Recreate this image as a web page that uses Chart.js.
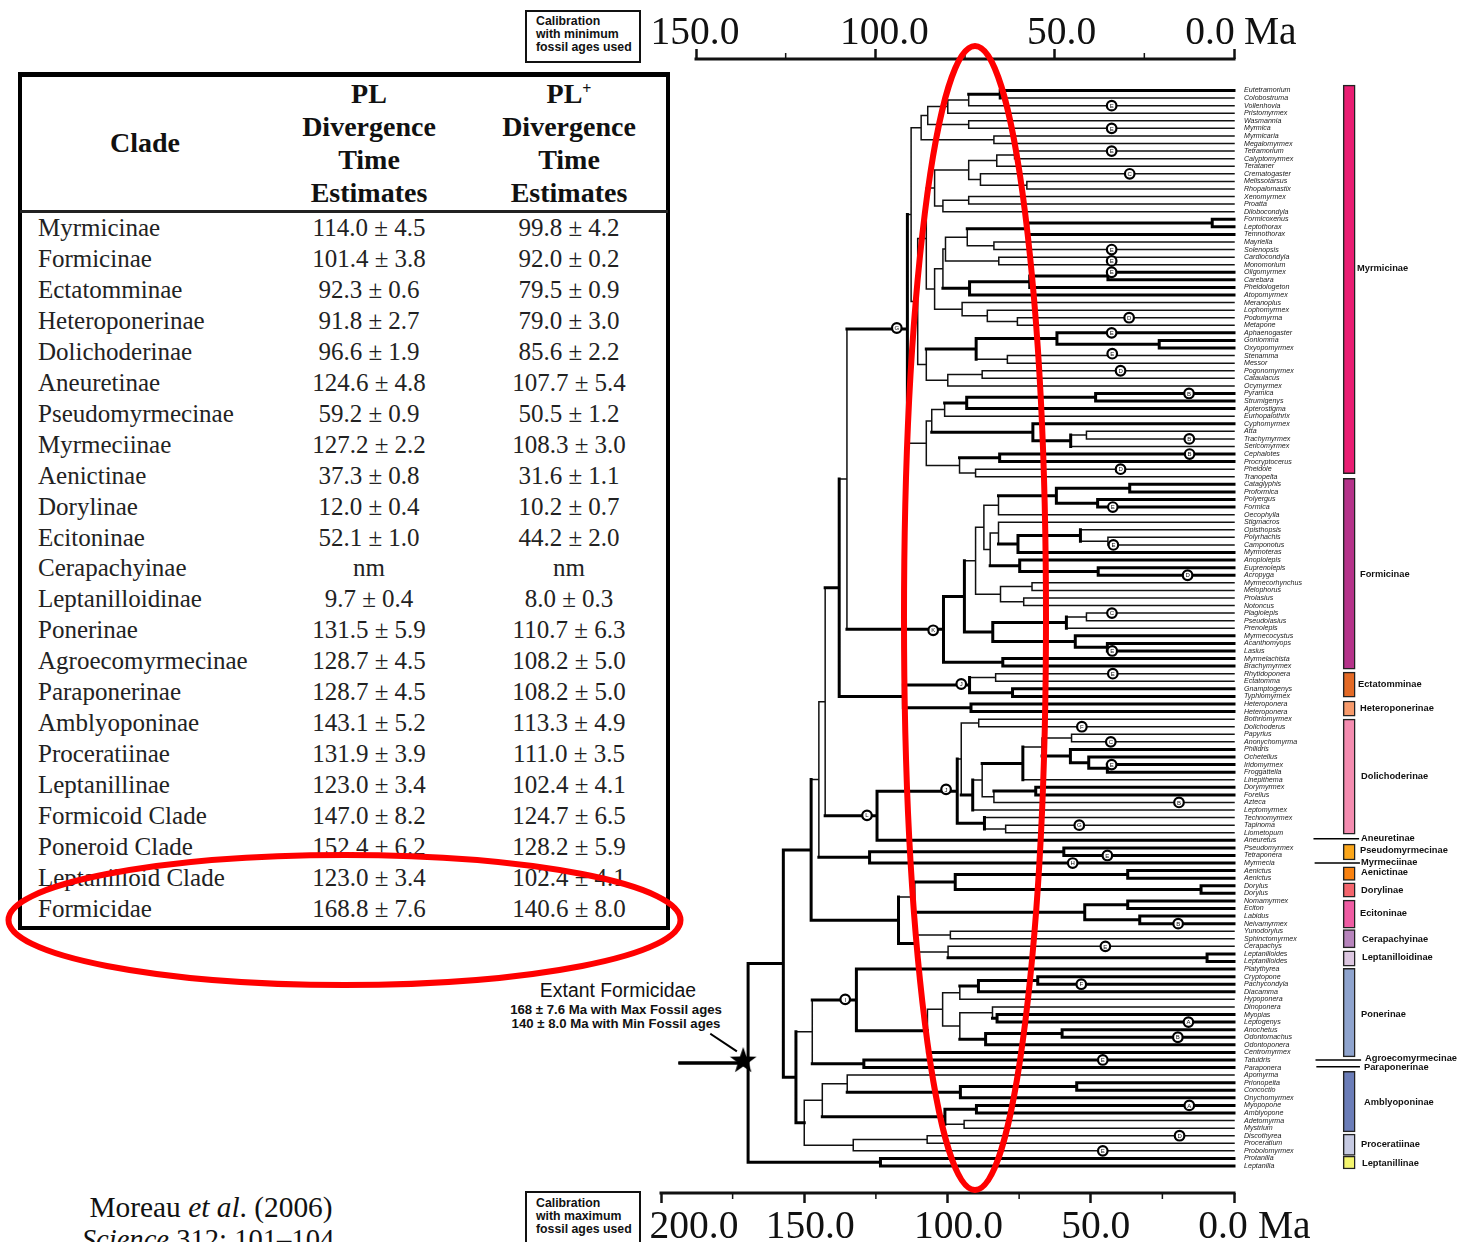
<!DOCTYPE html>
<html><head><meta charset="utf-8">
<style>
html,body{margin:0;padding:0;background:#fff;width:1469px;height:1242px;overflow:hidden}
#stage{position:relative;width:1469px;height:1242px;overflow:hidden}
#c{position:absolute;left:0;top:0;z-index:5}
.t{position:absolute;white-space:nowrap;color:#111}
.serif{font-family:"Liberation Serif",serif}
.sans{font-family:"Liberation Sans",sans-serif}
#frame{position:absolute;left:18px;top:72px;width:644px;height:849px;border:4px solid #000;border-top-width:5px}
#rule{position:absolute;left:20px;top:210px;width:648px;height:3px;background:#222}
.box{position:absolute;left:525px;width:112px;border:2px solid #111}
</style>
<script src="https://cdn.jsdelivr.net/npm/chart.js@4"></script>
</head><body><div id="stage"><canvas id="c" width="1469" height="1242"></canvas></div>
<script>
// ---- table values
const cladeRows=["Myrmicinae","Formicinae","Ectatomminae","Heteroponerinae","Dolichoderinae","Aneuretinae","Pseudomyrmecinae","Myrmeciinae","Aenictinae","Dorylinae","Ecitoninae","Cerapachyinae","Leptanilloidinae","Ponerinae","Agroecomyrmecinae","Paraponerinae","Amblyoponinae","Proceratiinae","Leptanillinae","Formicoid Clade","Poneroid Clade","Leptanilloid Clade","Formicidae"];
const plEstimates=["114.0 ± 4.5","101.4 ± 3.8","92.3 ± 0.6","91.8 ± 2.7","96.6 ± 1.9","124.6 ± 4.8","59.2 ± 0.9","127.2 ± 2.2","37.3 ± 0.8","12.0 ± 0.4","52.1 ± 1.0","nm","9.7 ± 0.4","131.5 ± 5.9","128.7 ± 4.5","128.7 ± 4.5","143.1 ± 5.2","131.9 ± 3.9","123.0 ± 3.4","147.0 ± 8.2","152.4 ± 6.2","123.0 ± 3.4","168.8 ± 7.6"];
const plPlusEstimates=["99.8 ± 4.2","92.0 ± 0.2","79.5 ± 0.9","79.0 ± 3.0","85.6 ± 2.2","107.7 ± 5.4","50.5 ± 1.2","108.3 ± 3.0","31.6 ± 1.1","10.2 ± 0.7","44.2 ± 2.0","nm","8.0 ± 0.3","110.7 ± 6.3","108.2 ± 5.0","108.2 ± 5.0","113.3 ± 4.9","111.0 ± 3.5","102.4 ± 4.1","124.7 ± 6.5","128.2 ± 5.9","102.4 ± 4.1","140.6 ± 8.0"];
// ---- tree taxa, top to bottom
const taxa=["Eutetramorium","Colobostruma","Vollenhovia","Pristomyrmex","Wasmannia","Myrmica","Myrmicaria","Megalomyrmex","Tetramorium","Calyptomyrmex","Terataner","Crematogaster","Melissotarsus","Rhopalomastix","Xenomyrmex","Proatta","Dilobocondyla","Formicoxenus","Leptothorax","Temnothorax","Mayriella","Solenopsis","Cardiocondyla","Monomorium","Oligomyrmex","Carebara","Pheidologeton","Atopomyrmex","Meranoplus","Lophomyrmex","Podomyrma","Metapone","Aphaenogaster","Goniomma","Oxyopomyrmex","Stenamma","Messor","Pogonomyrmex","Cataulacus","Ocymyrmex","Pyramica","Strumigenys","Apterostigma","Eurhopalothrix","Cyphomyrmex","Atta","Trachymyrmex","Sericomyrmex","Cephalotes","Procryptocerus","Pheidole","Tranopelta","Cataglyphis","Proformica","Polyergus","Formica","Oecophylla","Stigmacros","Opisthopsis","Polyrhachis","Camponotus","Myrmoteras","Anoplolepis","Euprenolepis","Acropyga","Myrmecorhynchus","Melophorus","Prolasius","Notoncus","Plagiolepis","Pseudolasius","Prenolepis","Myrmecocystus","Acanthomyops","Lasius","Myrmelachista","Brachymyrmex","Rhytidoponera","Ectatomma","Gnamptogenys","Typhlomyrmex","Heteroponera","Heteroponera","Bothriomyrmex","Dolichoderus","Papyrius","Anonychomyrma","Philidris","Ochetellus","Iridomyrmex","Froggattella","Linepithema","Dorymyrmex","Forelius","Azteca","Leptomyrmex","Technomyrmex","Tapinoma","Liometopum","Aneuretus","Pseudomyrmex","Tetraponera","Myrmecia","Aenictus","Aenictus","Dorylus","Dorylus","Nomamyrmex","Eciton","Labidus","Neivamyrmex","Yunodorylus","Sphinctomyrmex","Cerapachys","Leptanilloides","Leptanilloides","Platythyrea","Cryptopone","Pachycondyla","Diacamma","Hypoponera","Dinoponera","Myopias","Leptogenys","Anochetus","Odontomachus","Odontoponera","Centromyrmex","Tatuidris","Paraponera","Apomyrma","Prionopelta","Concoctio","Onychomyrmex","Myopopone","Amblyopone","Adetomyrma","Mystrium","Discothyrea","Proceratium","Probolomyrmex","Protanilla","Leptanilla"];
// ---- tree: node = [age in Ma, weight, ...children]; a leaf is its weight. weight 0 thin, 1 thick, 2 thick stem with thin bar
const rootStemAge=193.4;
const myrmicinaeTree=[114.0,1,
 [112.7,0,
  [109.2,0,[106.9,0,[99.9,0,[92.6,0,[81.6,1,1,0],0],0],[92.6,0,0,0]],[83.8,0,0,0]],
  [110.4,0,
   [107.4,0,
    [104.5,0,[92.6,0,[82.8,0,[76.6,0,0,0],0],[88.5,0,0,[72.3,0,0,0]]],[101.6,0,[92.6,0,0,0],0]],
    [104.5,0,
     [101.6,0,[100.7,0,[93.1,0,[72.0,1,[7.6,1,1,1],1],[83.8,0,0,0]],[82.1,0,0,0]],[92.3,1,[71.3,1,[44.0,1,1,1],1],1]],
     [94.9,0,0,[86.1,0,0,[75.6,0,0,0]]]]],
   [107.4,0,[90.0,1,[61.8,1,1,[26.1,1,1,1]],[79.1,0,0,0]],[99.9,0,[87.9,0,0,0],0]]]],
 [107.4,0,
  [105.5,0,[101.0,0,[93.3,1,[48.3,1,1,1],1],0],[70.2,1,1,[57.0,1,[51.5,0,0,0],0]]],
  [95.8,0,[81.8,1,1,1],[90.2,0,0,0]]]];
const formicinaeTree=[101.4,1,
 [94.1,1,
  [90.2,0,
   [87.3,0,
    [82.2,0,[62.0,1,[36.4,1,1,1],[47.6,1,1,1]],0],
    [85.1,0,[82.2,0,0,[75.4,1,[53.6,1,0,[44.0,0,0,0]],1]],[74.8,1,1,[47.4,1,1,1]]]],
   [81.5,0,[70.5,0,0,0],[73.4,0,0,0]]],
  [84.2,1,[58.5,1,[51.5,0,0,0],0],[55.4,1,1,[44.2,1,1,1]]]],
 [80.7,1,1,1]];
const ectatomminaeTree=[115.4,1,[92.3,1,[83.2,0,0,0],[77.3,1,1,1]],[91.8,1,1,1]];
const dolichoderoidTree=[124.6,1,
 [96.6,1,
  [95.2,0,[89.1,0,0,0],
   [91.2,1,[87.9,0,[73.7,1,[67.0,0,[56.7,0,0,0],[57.1,1,1,[50.7,1,1,[44.2,1,1,1]]]],0],[83.8,0,[69.2,1,1,1],0]],0]],
  [87.1,1,0,[79.7,0,0,0]]],
 1];
const myrmeciaTree=[127.2,1,[59.4,1,1,1],1];
const dorylineTree=[117.1,1,
 [111.4,0,[97.3,1,[37.1,1,1,1],[11.5,1,1,1]],[52.1,1,[37.1,1,1,1],[32.9,1,1,1]]],
 [110.8,2,[99.0,0,0,0],[99.8,0,0,[9.4,1,1,1]]]];
const ponerineTree=[147.2,0,
 [131.8,1,1,[107.0,2,
   [101.7,0,[95.7,0,[89.2,1,[68.5,1,1,1],1],0],[95.7,0,[84.3,0,0,[82.7,1,1,1]],[86.7,1,[60.0,1,1,1],1]]],1]],
 [129.2,1,1,1]];
const amblyoponineTree=[150.0,2,
 [143.7,0,[135.0,0,0,[95.5,1,[54.9,1,1,1],1]],[100.9,1,[89.9,1,1,1],[94.2,0,0,0]]],
 [132.9,0,[107.1,0,0,0],0]];
const leptanillineTree=[123.4,1,1,1];
const tree=[169.6,1,
 [157.3,1,
  [147.6,1,
   [144.9,0,[142.7,0,[137.8,1,[135.1,0,myrmicinaeTree,formicinaeTree],ectatomminaeTree],dolichoderoidTree],myrmeciaTree],
   dorylineTree],
  [152.9,1,ponerineTree,amblyoponineTree]],
 leptanillineTree];
// ---- calibration points on the tree
const markerAges=[42.7,42.7,42.7,36.4,42.7,42.7,42.7,36.6,42.7,42.5,39.6,15.7,15.6,15.5,39.6,42.3,42.1,16.2,42.6,42.5,105,117.7,42.3,95.2,53.1,43,42.7,100.5,128.1,19.2,54,44.2,56.3,19.5,44.9,135.7,53.3,15.9,19.6,45.8,15.6,19,45.8];
const markerTaxon=[2,5,8,11,21,22.5,24,30,32,34.75,37,40,46,48,50,55,60,64,69,74,71.27,31.36,77,78.36,84,86,89,92.27,95.7,94,97,101,102,110,113,120,118,123,125,128,134,138,140];
const markerLetters=["E","E","E","C","E","E","E","D","E","E","D","B","B","B","D","E","E","D","C","E","K","G","E","J","F","C","E","J","L","B","G","E","H","B","E","I","F","A","B","E","A","D","E"];
// ---- subfamily colour bars, in taxon rows
const barNames=["Myrmicinae","Formicinae","Ectatomminae","Heteroponerinae","Dolichoderinae","Pseudomyrmecinae","Aenictinae","Dorylinae","Ecitoninae","Cerapachyinae","Leptanilloidinae","Ponerinae","Amblyoponinae","Proceratiinae","Leptanillinae"];
const barStart=[-0.7,51.2,76.8,80.6,83.0,99.5,102.5,104.6,106.9,110.8,113.6,115.9,129.5,137.8,140.7];
const barEnd=[50.6,76.4,80.1,82.6,98.2,101.6,104.3,106.5,110.6,113.2,115.6,127.6,137.5,140.6,142.4];
const barColors=["#E91E73","#B5338A","#E36A26","#F79A6B","#F48CB0","#FBA61A","#F9820F","#F4656D","#EF5CA3","#B784BC","#DCC6E0","#8FA4CE","#6B7DB8","#C6CAE2","#F4F56E"];
// ---- axes
const bottomTicks=[0,50,100,150,200], topTicks=[0,50,100,150];
const bottomMinor=[25,75,125,175], topMinor=[25,75,125];
const bottomLabelShift={0:-11,50:5,100:11,150:6,200:33}, topLabelShift={0:-24,50:7,100:9,150:-1};
const yMin=-4.159,yMax=145.565,topMax=159.76;
const barMa=-40.2;
const leaderRows=[98.8,102,128,128.9],leaderStart=[-28,-28.4,-28.7,-29],leaderEnd=[-43.4,-43.7,-44.1,-43.7];
const sideLabels=[["Myrmicinae",1357,268],["Formicinae",1360,574],["Ectatomminae",1358,684],["Heteroponerinae",1360,708],["Dolichoderinae",1361,776],["Aneuretinae",1361,838],["Pseudomyrmecinae",1360,850],["Myrmeciinae",1361,862],["Aenictinae",1361,872],["Dorylinae",1361,890],["Ecitoninae",1360,913],["Cerapachyinae",1362,939],["Leptanilloidinae",1362,957],["Ponerinae",1361,1014],["Agroecomyrmecinae",1365,1058],["Paraponerinae",1364,1067],["Amblyoponinae",1364,1102],["Proceratiinae",1361,1144],["Leptanillinae",1362,1163]];

// ---- build tree paths
const thin=[],thick=[];let leafRow=0;
const gap={x:null,y:null};
function seg(t,x0,y0,x1,y1){(t?thick:thin).push({x:x0,y:y0},{x:x1,y:y1},gap);}
function walk(n,parentAge){
  if(typeof n==="number"){const y=leafRow++;seg(n,parentAge,y,0,y);return y;}
  const [age,w,...kids]=n;
  const ys=kids.map(k=>walk(k,age));
  const y=(ys[0]+ys[ys.length-1])/2;
  seg(w>0,parentAge,y,age,y);
  seg(w===1,age,ys[0],age,ys[ys.length-1]);
  return y;
}
const rootRow=walk(tree,rootStemAge);

// ---- star
const star=document.createElement('canvas');star.width=28;star.height=28;
(function(){const g=star.getContext('2d');g.beginPath();
 for(let i=0;i<10;i++){const r=i%2?5.6:14,a=-Math.PI/2+i*Math.PI/5;g.lineTo(14+r*Math.cos(a),15+r*Math.sin(a));}
 g.closePath();g.fillStyle='#000';g.fill();})();

// ---- html text
const stage=document.getElementById('stage');
function txt(s,x,y,css,cls,align){const d=document.createElement('div');d.className='t '+cls;d.innerHTML=s;d.style.cssText=css;
 d.style.top=(y)+'px';d.style.left=x+'px';d.style.lineHeight='0';if(align==='c')d.style.transform='translateX(-50%)';stage.appendChild(d);return d;}
const fr=document.createElement('div');fr.id='frame';stage.appendChild(fr);
const ru=document.createElement('div');ru.id='rule';stage.appendChild(ru);
const hb='font-size:28px;font-weight:bold;';
txt('Clade',145,143,hb,'serif','c');
[[369,'PL'],[569,'PL<span style="font-size:16px;position:relative;top:-9px">+</span>']].forEach(([x,h])=>{
 txt(h,x,94,hb,'serif','c');txt('Divergence',x,127,hb,'serif','c');txt('Time',x,160,hb,'serif','c');txt('Estimates',x,193,hb,'serif','c');});
cladeRows.forEach((c,i)=>{const y=228+i*30.95;
 txt(c,38,y,'font-size:25px;color:#222','serif');
 txt(plEstimates[i],369,y,'font-size:25px;color:#222','serif','c');
 txt(plPlusEstimates[i],569,y,'font-size:25px;color:#222','serif','c');});
txt('Extant Formicidae',618,990,'font-size:19.4px','sans','c');
txt('168 ± 7.6 Ma with Max Fossil ages',616,1010,'font-size:13.2px;font-weight:bold','sans','c');
txt('140 ± 8.0 Ma with Min Fossil ages',616,1024,'font-size:13.2px;font-weight:bold','sans','c');
txt('Moreau <i>et al</i>. (2006)',211,1207,'font-size:29.4px','serif','c');
txt('<i>Science</i> 312: 101–104',208,1240,'font-size:28.6px','serif','c');
[[10,49,21,['Calibration','with minimum','fossil ages used']],[1191,60,1203,['Calibration','with maximum','fossil ages used']]].forEach(([top,h,y,ls])=>{
 const b=document.createElement('div');b.className='box';b.style.top=top+'px';b.style.height=h+'px';stage.appendChild(b);
 ls.forEach((l,i)=>txt(l,536,y+i*13,'font-size:12.3px;font-weight:bold','sans'));});

// ---- overlay plugin
const overlay={id:'overlay',afterDraw(ch){
 const c=ch.ctx,xb=ch.scales.x,xt=ch.scales.xTop,yy=ch.scales.y;
 c.save();
 c.strokeStyle='#111';c.lineWidth=1.5;c.beginPath();
 topMinor.forEach(v=>{const p=xt.getPixelForValue(v);c.moveTo(p,59);c.lineTo(p,53);});
 bottomMinor.forEach(v=>{const p=xb.getPixelForValue(v);c.moveTo(p,1193);c.lineTo(p,1199);});
 c.stroke();
 c.fillStyle='#111';c.textBaseline='alphabetic';c.font='39.5px "Liberation Serif",serif';c.textAlign='center';
 topTicks.forEach(v=>c.fillText(v.toFixed(1),xt.getPixelForValue(v)+topLabelShift[v],43.5));
 bottomTicks.forEach(v=>c.fillText(v.toFixed(1),xb.getPixelForValue(v)+bottomLabelShift[v],1238));
 c.textAlign='left';c.fillText('Ma',1244,43.5);c.fillText('Ma',1258,1238);
 c.font='bold 9.3px "Liberation Sans",sans-serif';c.textBaseline='middle';
 sideLabels.forEach(([s,x,y])=>c.fillText(s,x,y));
 c.font='6px "Liberation Sans",sans-serif';c.textAlign='center';
 markerLetters.forEach((l,i)=>c.fillText(l,xb.getPixelForValue(markerAges[i]),yy.getPixelForValue(markerTaxon[i])+0.5));
 c.strokeStyle='#FF0000';c.lineWidth=6;
 c.beginPath();c.ellipse(975,618,71,572,0,0,Math.PI*2);c.stroke();
 c.beginPath();c.ellipse(344.5,920,336,65,0,0,Math.PI*2);c.stroke();
 c.restore();
}};
const lineBase={type:'line',pointRadius:0,borderCapStyle:'square',fill:false,clip:false,showLine:true,tension:0,spanGaps:false};
const leaderPts=[];leaderRows.forEach((r,i)=>leaderPts.push({x:leaderStart[i],y:r},{x:leaderEnd[i],y:r},gap));
new Chart(document.getElementById('c'),{
 type:'scatter',
 data:{datasets:[
  {...lineBase,label:'axis top',xAxisID:'xTop',data:[{x:0,y:yMin},{x:150,y:yMin}],borderColor:'#111',borderWidth:3,order:3},
  {...lineBase,label:'axis bottom',data:[{x:0,y:yMax},{x:200,y:yMax}],borderColor:'#111',borderWidth:3,order:3},
  {...lineBase,label:'thin branches',data:thin,borderColor:'#111',borderWidth:1.5,order:4},
  {...lineBase,label:'thick branches',data:thick,borderColor:'#000',borderWidth:3,order:3},
  {...lineBase,label:'root stem',data:[{x:rootStemAge,y:rootRow},{x:171.3,y:rootRow}],borderColor:'#000',borderWidth:3,order:3},
  {...lineBase,label:'pointer',data:[{x:182.5,y:124.6},{x:173.8,y:126.8}],borderColor:'#000',borderWidth:2,order:3},
  {...lineBase,label:'leaders',data:leaderPts,borderColor:'#000',borderWidth:1.5,order:3},
  {type:'bar',label:'subfamilies',data:barStart.map((s,i)=>({x:barMa,y:[s,barEnd[i]]})),backgroundColor:barColors,borderColor:'#222',borderWidth:1.5,borderSkipped:false,barThickness:12,grouped:false,clip:false,order:2},
  {type:'scatter',label:'calibrations',data:markerAges.map((a,i)=>({x:a,y:markerTaxon[i]})),pointRadius:4.8,pointBackgroundColor:'#fff',pointBorderColor:'#000',pointBorderWidth:2.2,showLine:false,clip:false,order:1},
  {type:'scatter',label:'Formicidae crown',data:[{x:171.3,y:128}],pointStyle:star,showLine:false,clip:false,order:0}
 ]},
 options:{
  responsive:false,animation:false,events:[],
  layout:{padding:{left:661,right:0,top:0,bottom:0}},
  plugins:{legend:{display:false},tooltip:{enabled:false}},
  scales:{
   x:{type:'linear',position:'bottom',reverse:true,min:0,max:200,offset:false,border:{display:false},
      grid:{offset:false,drawOnChartArea:false,tickLength:10,tickWidth:2.5,tickColor:'#111'},
      ticks:{display:false,stepSize:50,includeBounds:false},afterFit(s){s.height=49;}},
   xTop:{type:'linear',position:'top',reverse:true,min:0,max:topMax,offset:false,border:{display:false},
      grid:{offset:false,drawOnChartArea:false,tickLength:10,tickWidth:2.5,tickColor:'#111'},
      ticks:{display:false,stepSize:50,includeBounds:false},afterFit(s){s.height=59;}},
   y:{type:'linear',position:'right',reverse:true,min:yMin,max:yMax,bounds:'data',offset:false,border:{display:false},
      grid:{display:false,drawTicks:false},
      ticks:{autoSkip:false,padding:10,color:'#222',font:{family:'"Liberation Sans",sans-serif',style:'italic',size:7.1},
        callback:v=>taxa[v]},
      afterBuildTicks(s){s.ticks=taxa.map((_,i)=>({value:i}));},
      afterFit(s){s.width=235;}}
  }
 },
 plugins:[overlay]
});
</script></body></html>
